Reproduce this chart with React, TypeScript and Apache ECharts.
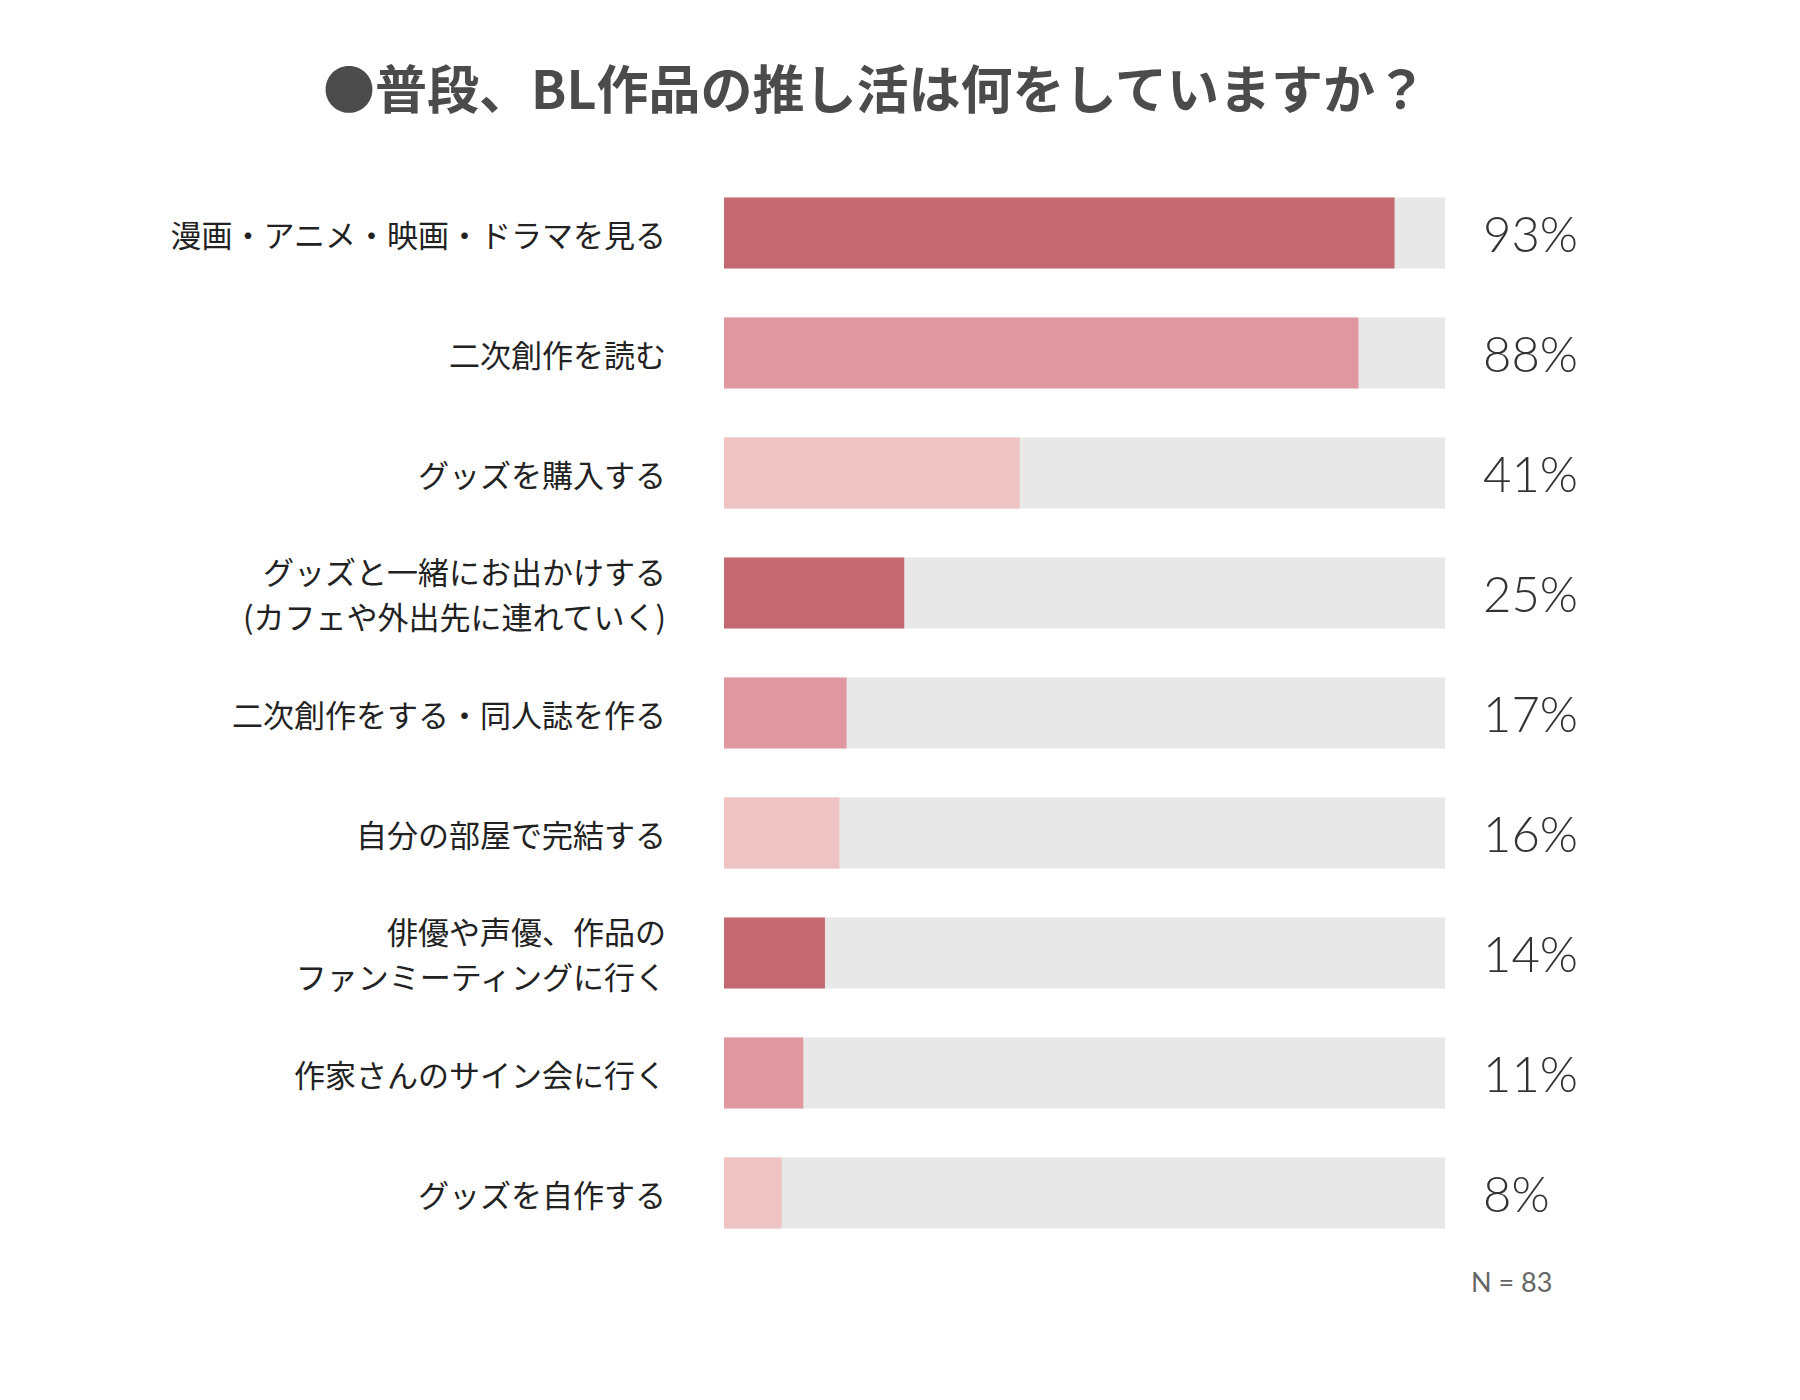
import React, { useEffect, useRef } from "react";
import * as echarts from "echarts";

const categories = [
  "漫画・アニメ・映画・ドラマを見る",
  "二次創作を読む",
  "グッズを購入する",
  "グッズと一緒にお出かけする\n(カフェや外出先に連れていく)",
  "二次創作をする・同人誌を作る",
  "自分の部屋で完結する",
  "俳優や声優、作品の\nファンミーティングに行く",
  "作家さんのサイン会に行く",
  "グッズを自作する",
];
const values = [93, 88, 41, 25, 17, 16, 14, 11, 8];
const barColors = [
  "#C46872", "#E0979F", "#EFC2C4",
  "#C46872", "#E0979F", "#EFC2C4",
  "#C46872", "#E0979F", "#EFC2C4",
];
const titleText = "●普段、BL作品の推し活は何をしていますか？";
const noteText = "N = 83";

export default function App() {
  const ref = useRef<HTMLDivElement>(null);
  useEffect(() => {
    document.body.style.margin = "0";
    if (!ref.current) return;
    const chart = echarts.init(ref.current, null, { renderer: "svg" });
    chart.setOption({
      animation: false,
      backgroundColor: "#ffffff",
      title: {
        text: titleText,
        left: 318,
        top: 55,
        textStyle: {
          fontFamily: "Noto Sans CJK JP",
          fontSize: 52,
          fontWeight: "bold",
          color: "#4b4b4b",
        },
      },
      graphic: [
        {
          type: "text",
          left: 1471,
          top: 1268,
          style: {
            text: noteText,
            fontFamily: "Lato",
            fontSize: 27,
            fill: "#666666",
          },
        },
      ],
      grid: { left: 724, right: 355, top: 173, bottom: 147 },
      xAxis: {
        type: "value",
        min: 0,
        max: 100,
        show: false,
      },
      yAxis: [
        {
          type: "category",
          data: categories,
          inverse: true,
          axisLine: { show: false },
          axisTick: { show: false },
          axisLabel: {
            margin: 58,
            fontFamily: "Noto Sans CJK JP",
            fontSize: 31,
            lineHeight: 45,
            color: "#222222",
            align: "right",
          },
        },
        {
          type: "category",
          position: "right",
          data: values.map((v) => v + "%"),
          inverse: true,
          axisLine: { show: false },
          axisTick: { show: false },
          axisLabel: {
            margin: 38,
            align: "left",
            fontFamily: "Lato",
            fontWeight: 300,
            fontSize: 49,
            color: "#333333",
          },
        },
      ],
      series: [
        {
          type: "bar",
          yAxisIndex: 0,
          barWidth: 71,
          showBackground: true,
          backgroundStyle: { color: "#E8E8E8" },
          data: values.map((v, i) => ({ value: v, itemStyle: { color: barColors[i] } })),
        },
      ],
    });
    return () => chart.dispose();
  }, []);
  return <div ref={ref} style={{ width: 1800, height: 1400 }} />;
}
